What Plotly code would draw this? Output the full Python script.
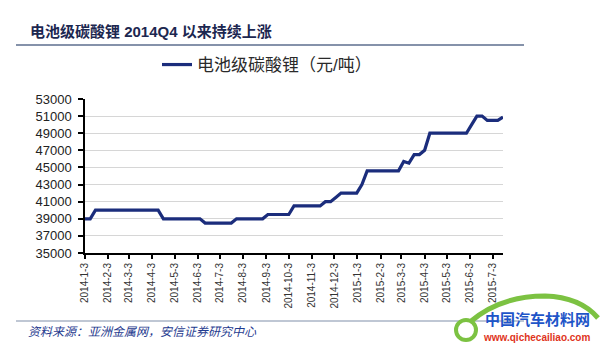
import pandas as pd
import plotly.graph_objects as go

# Weekly price of battery-grade lithium carbonate (yuan / tonne)
start_date = "2014-01-03"
prices = [
    39000, 39000,
    40000, 40000, 40000, 40000, 40000, 40000, 40000, 40000, 40000, 40000, 40000, 40000, 40000,
    39000, 39000, 39000, 39000, 39000, 39000, 39000, 39000,
    38500, 38500, 38500, 38500, 38500, 38500,
    39000, 39000, 39000, 39000, 39000, 39000,
    39500, 39500, 39500, 39500, 39500,
    40500, 40500, 40500, 40500, 40500, 40500,
    41000, 41000, 41500,
    42000, 42000, 42000, 42000,
    43000,
    44600, 44600, 44600, 44600, 44600, 44600, 44600,
    45700, 45500, 46500, 46500, 47000,
    49000, 49000, 49000, 49000, 49000, 49000, 49000, 49000,
    50000, 51000, 51000,
    50500, 50500, 50500, 50900,
]
dates = pd.date_range(start_date, periods=len(prices), freq="7D")

tick_dates = [
    "2014-01-03", "2014-02-03", "2014-03-03", "2014-04-03", "2014-05-03", "2014-06-03",
    "2014-07-03", "2014-08-03", "2014-09-03", "2014-10-03", "2014-11-03", "2014-12-03",
    "2015-01-03", "2015-02-03", "2015-03-03", "2015-04-03", "2015-05-03", "2015-06-03",
    "2015-07-03",
]
tick_labels = [
    "2014-1-3", "2014-2-3", "2014-3-3", "2014-4-3", "2014-5-3", "2014-6-3",
    "2014-7-3", "2014-8-3", "2014-9-3", "2014-10-3", "2014-11-3", "2014-12-3",
    "2015-1-3", "2015-2-3", "2015-3-3", "2015-4-3", "2015-5-3", "2015-6-3",
    "2015-7-3",
]
y_ticks = [35000, 37000, 39000, 41000, 43000, 45000, 47000, 49000, 51000, 53000]

series_name = "电池级碳酸锂（元/吨）"
title_text = "<b>电池级碳酸锂 2014Q4 以来持续上涨</b>"
source_text = "<i>资料来源：亚洲金属网，安信证券研究中心</i>"

W, H = 600, 348
L, R, T, B = 85, 503, 99, 253  # plot area edges in pixels


def px(x):
    return (x - L) / (R - L)


def py(y):
    return (B - y) / (B - T)


NAVY = "#1b2d7c"
LATIN = "Liberation Sans, Arial"
CJK = "Liberation Sans, Noto Sans CJK SC"

fig = go.Figure()
fig.add_trace(go.Scatter(
    x=dates, y=prices, mode="lines", name=series_name,
    line=dict(color=NAVY, width=3.2),
))

fig.update_layout(
    width=W, height=H,
    margin=dict(l=L, r=W - R, t=T, b=H - B, pad=0),
    paper_bgcolor="white", plot_bgcolor="white",
    showlegend=True,
    legend=dict(
        x=px(157), y=py(65), xanchor="left", yanchor="middle",
        orientation="h", itemwidth=30,
        font=dict(family=CJK, size=17, color="#2a2a2a"),
        bgcolor="rgba(0,0,0,0)",
    ),
    xaxis=dict(
        type="date",
        range=[dates[0], dates[-1]],
        tickmode="array", tickvals=tick_dates, ticktext=tick_labels,
        tickangle=-90,
        tickfont=dict(family=LATIN, size=10, color="#333333"),
        ticks="outside", ticklen=4, tickwidth=1.5, tickcolor="black",
        showline=True, linecolor="black", linewidth=2,
        showgrid=False, zeroline=False,
    ),
    yaxis=dict(
        range=[35000, 53000],
        tickmode="array", tickvals=y_ticks, ticktext=[str(v) for v in y_ticks],
        tickfont=dict(family=LATIN, size=13, color="#222222"),
        ticks="outside", ticklen=5, tickwidth=1.5, tickcolor="black",
        ticklabelstandoff=4,
        showline=True, linecolor="black", linewidth=1.5,
        showgrid=True, gridcolor="#d6d6d6", gridwidth=1,
        zeroline=False,
    ),
)

# Heading and rule lines
fig.add_annotation(
    xref="paper", yref="paper", x=px(28), y=py(32),
    xanchor="left", yanchor="middle", showarrow=False,
    text=title_text, font=dict(family=CJK, size=15, color="#1c2750"),
)
fig.add_shape(type="line", xref="paper", yref="paper",
              x0=px(16), x1=px(524), y0=py(45), y1=py(45),
              line=dict(color="#8592aa", width=2))
fig.add_shape(type="line", xref="paper", yref="paper",
              x0=px(16), x1=px(524), y0=py(321), y1=py(321),
              line=dict(color="#aab4c6", width=1.5))
fig.add_annotation(
    xref="paper", yref="paper", x=px(26), y=py(332),
    xanchor="left", yanchor="middle", showarrow=False,
    text=source_text, font=dict(family=CJK, size=12, color="#1f3b8f"),
)

# Site logo in the lower-right corner
fig.add_shape(type="path", xref="paper", yref="paper",
              path=(f"M {px(470)},{py(322)} Q {px(500)},{py(296)} {px(545)},{py(296)} "
                    f"Q {px(580)},{py(297)} {px(598)},{py(318)}"),
              line=dict(color="#7cc242", width=5))
fig.add_shape(type="circle", xref="paper", yref="paper",
              x0=px(456), x1=px(476), y0=py(340), y1=py(320),
              line=dict(color="#7cc242", width=4))
fig.add_annotation(
    xref="paper", yref="paper", x=px(537), y=py(330),
    xanchor="center", yanchor="bottom", showarrow=False, borderpad=0,
    text="<b>中国汽车材料网</b>", font=dict(family="Noto Sans CJK SC", size=15, color="#1e55c8"),
)
fig.add_annotation(
    xref="paper", yref="paper", x=px(536), y=py(331),
    xanchor="center", yanchor="top", showarrow=False, borderpad=0,
    text="<b>www.qichecailiao.com</b>", font=dict(family=LATIN, size=10, color="#e0341c"),
)

fig.write_html("out.html")
